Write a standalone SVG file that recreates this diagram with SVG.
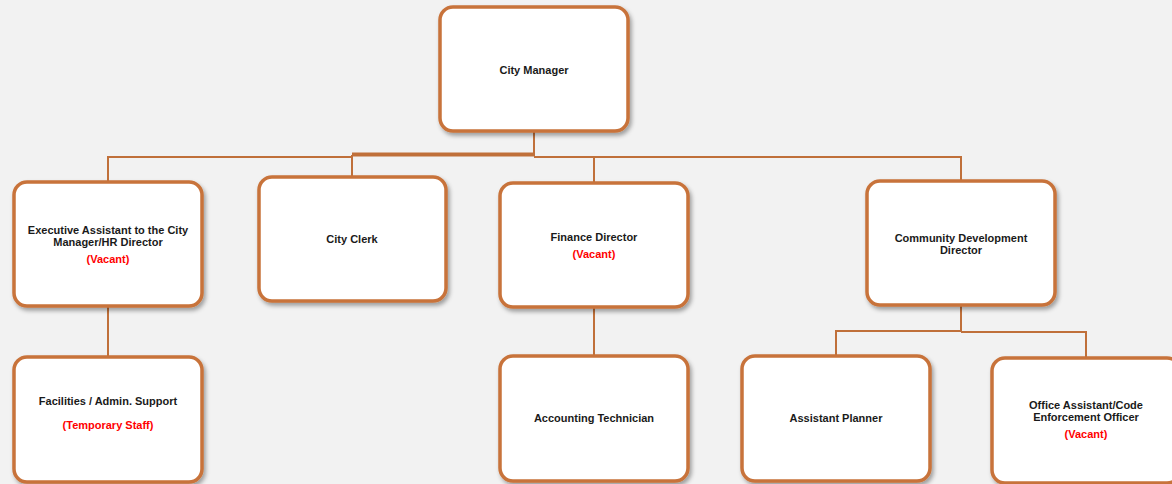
<svg xmlns="http://www.w3.org/2000/svg" width="1172" height="484" viewBox="0 0 1172 484">
<defs>
<filter id="sh" x="-10%" y="-10%" width="125%" height="125%">
<feDropShadow dx="2" dy="3" stdDeviation="2" flood-color="#000" flood-opacity="0.35"/>
</filter>
</defs>
<style>
.box{fill:#fff;stroke:#C8733A;stroke-width:3.5;filter:url(#sh)}
.t{font-family:"Liberation Sans",Arial,sans-serif;font-weight:bold;font-size:11px;fill:#1a1a1a;text-anchor:middle}
.v{fill:#FF0000}
.c{fill:none;stroke:#C0703A;stroke-width:2}
</style>
<rect width="1172" height="484" fill="#F2F2F2"/>
<g id="connectors">
<path class="c" d="M534 131V156"/>
<path class="c" d="M352 154.5H534" style="stroke-width:4"/>
<path class="c" d="M108 181V157H352"/>
<path class="c" d="M352 177V155"/>
<path class="c" d="M534 157H961V181"/>
<path class="c" d="M594 157V183"/>
<path class="c" d="M108 306V356"/>
<path class="c" d="M594 307V355"/>
<path class="c" d="M961 305V331H836V355"/>
<path class="c" d="M961 332H1086V357"/>
</g>
<g id="city-manager">
<rect class="box" x="440" y="7" width="188" height="124" rx="13"/>
<text class="t" x="534" y="74">City Manager</text>
</g>
<g id="exec-assistant">
<rect class="box" x="14" y="182" width="188" height="124" rx="13"/>
<text class="t" x="108" y="234">Executive Assistant to the City</text>
<text class="t" x="108" y="246">Manager/HR Director</text>
<text class="t v" x="108" y="263">(Vacant)</text>
</g>
<g id="city-clerk">
<rect class="box" x="259" y="177" width="187" height="124" rx="13"/>
<text class="t" x="352" y="243">City Clerk</text>
</g>
<g id="finance-director">
<rect class="box" x="500" y="183" width="188" height="124" rx="13"/>
<text class="t" x="594" y="241">Finance Director</text>
<text class="t v" x="594" y="258">(Vacant)</text>
</g>
<g id="community-development-director">
<rect class="box" x="867" y="181" width="188" height="124" rx="13"/>
<text class="t" x="961" y="242">Community Development</text>
<text class="t" x="961" y="254">Director</text>
</g>
<g id="facilities">
<rect class="box" x="14" y="357" width="188" height="125" rx="13"/>
<text class="t" x="108" y="405">Facilities / Admin. Support</text>
<text class="t v" x="108" y="429">(Temporary Staff)</text>
</g>
<g id="accounting-technician">
<rect class="box" x="500" y="356" width="188" height="125" rx="13"/>
<text class="t" x="594" y="422">Accounting Technician</text>
</g>
<g id="assistant-planner">
<rect class="box" x="742" y="356" width="188" height="125" rx="13"/>
<text class="t" x="836" y="422">Assistant Planner</text>
</g>
<g id="office-assistant">
<rect class="box" x="992" y="358" width="188" height="125" rx="13"/>
<text class="t" x="1086" y="409">Office Assistant/Code</text>
<text class="t" x="1086" y="421">Enforcement Officer</text>
<text class="t v" x="1086" y="438">(Vacant)</text>
</g>
</svg>
